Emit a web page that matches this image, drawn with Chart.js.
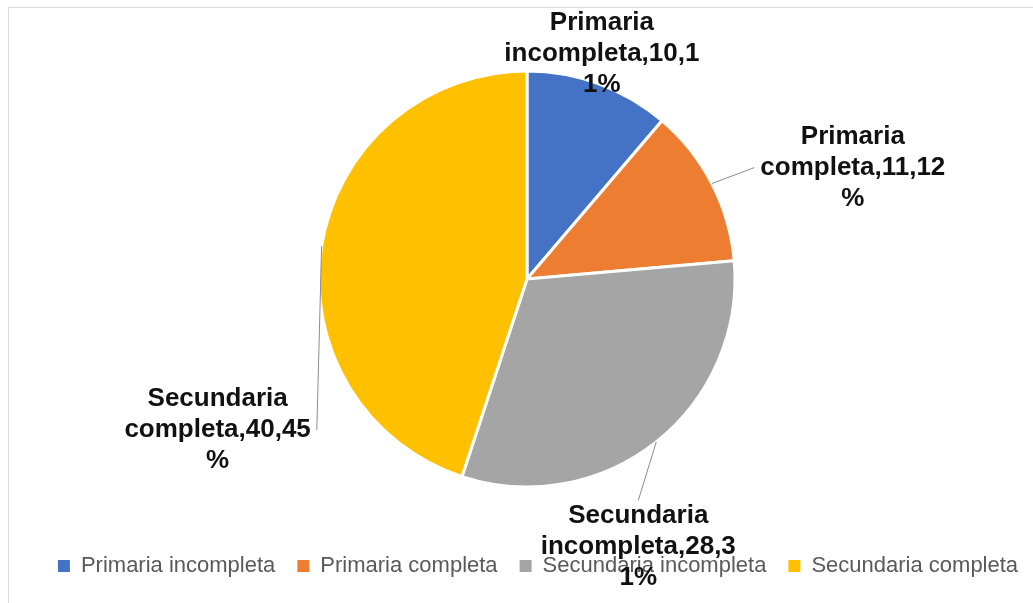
<!DOCTYPE html>
<html>
<head>
<meta charset="utf-8">
<script src="https://cdn.jsdelivr.net/npm/chart.js@4.4.1/dist/chart.umd.min.js"></script>
<style>
    html, body { margin: 0; padding: 0; background: #fff; overflow: hidden; }
    .frame {
        position: absolute; left: 8px; top: 7px;
        width: 1062px; height: 600px;
        border-top: 1px solid #d9d9d9; border-left: 1px solid #d9d9d9;
    }
    canvas { display: block; }
</style>
</head>
<body>
<div class="frame"><canvas id="pie-chart" width="1062" height="595"></canvas></div>
<script>
    "use strict";

    // Data
    var categories = ["Primaria incompleta", "Primaria completa", "Secundaria incompleta", "Secundaria completa"];
    var counts = [10, 11, 28, 40];
    var sliceColors = ["#4472C4", "#ED7D31", "#A5A5A5", "#FFC000"];

    var fontFamily = '"Liberation Sans", Arial, sans-serif';

    // wrap a label like Excel does: by words, and by letters when a word is too long
    function wrapText(ctx, text, maxWidth) {
        var lines = [];
        var line = '';
        text.split(' ').forEach(function (word) {
            var test = line ? line + ' ' + word : word;
            if (ctx.measureText(test).width <= maxWidth) {
                line = test;
                return;
            }
            if (line) {
                lines.push(line);
                line = '';
            }
            for (var c = 0; c < word.length; c++) {
                var t = line + word[c];
                if (line && ctx.measureText(t).width > maxWidth) {
                    lines.push(line);
                    line = word[c];
                } else {
                    line = t;
                }
            }
        });
        if (line) lines.push(line);
        return lines;
    }

    // Data labels with leader lines
    var pieLabels = {
        id: 'pieLabels',
        afterDatasetsDraw: function (chart, args, opts) {
            var ctx = chart.ctx;
            var meta = chart.getDatasetMeta(0);
            var values = chart.data.datasets[0].data;
            var total = values.reduce(function (a, b) { return a + b; }, 0);
            ctx.save();
            ctx.font = 'bold ' + opts.size + 'px ' + fontFamily;
            ctx.textAlign = 'center';
            ctx.textBaseline = 'middle';
            meta.data.forEach(function (arc, i) {
                var p = arc.getProps(['x', 'y', 'startAngle', 'endAngle', 'outerRadius'], true);
                var mid = (p.startAngle + p.endAngle) / 2;
                var ex = p.x + Math.cos(mid) * p.outerRadius;
                var ey = p.y + Math.sin(mid) * p.outerRadius;
                var pct = Math.round(values[i] / total * 100);
                var lines = wrapText(ctx, chart.data.labels[i] + ',' + values[i] + ',' + pct + '%', opts.maxWidth);
                var cx = ex + opts.offsets[i][0];
                var cy = ey + opts.offsets[i][1];
                var w = Math.max.apply(null, lines.map(function (l) { return ctx.measureText(l).width; }));
                var h = lines.length * opts.lineHeight;
                var left = cx - w / 2, right = cx + w / 2, top = cy - h / 2, bottom = cy + h / 2;

                var inside = ex >= left && ex <= right && ey >= top && ey <= bottom;
                if (!inside) {
                    var lx, ly;
                    if (ex >= left && ex <= right) {
                        lx = cx;
                        ly = ey < top ? top : bottom;
                    } else {
                        lx = ex < left ? left - opts.gap : right + opts.gap;
                        ly = cy;
                    }
                    ctx.strokeStyle = opts.lineColor;
                    ctx.lineWidth = 1;
                    ctx.beginPath();
                    ctx.moveTo(ex, ey);
                    ctx.lineTo(lx, ly);
                    ctx.stroke();
                }

                ctx.fillStyle = opts.color;
                lines.forEach(function (l, k) {
                    ctx.fillText(l, cx, top + opts.lineHeight * (k + 0.5));
                });
            });
            ctx.restore();
        }
    };

    // the legend sits a bit right of the pie in the original
    var legendShift = {
        id: 'legendShift',
        afterLayout: function (chart, args, opts) {
            chart.legend.left += opts.dx;
            chart.legend.right += opts.dx;
        }
    };

    var ctx1 = document.getElementById('pie-chart').getContext('2d');
    var myChart1 = new Chart(ctx1, {
        type: 'pie',
        data: {
            labels: categories,
            datasets: [{
                data: counts,
                backgroundColor: sliceColors,
                borderColor: '#ffffff',
                borderWidth: 3
            }]
        },
        options: {
            responsive: false,
            animation: false,
            radius: 208,
            layout: {
                padding: { left: 0, right: 26, top: 17, bottom: 16 }
            },
            plugins: {
                legend: {
                    position: 'bottom',
                    labels: {
                        boxWidth: 12,
                        boxHeight: 12,
                        padding: 22,
                        color: '#595959',
                        font: { size: 22, family: fontFamily },
                        generateLabels: function (chart) {
                            var items = Chart.overrides.pie.plugins.legend.labels.generateLabels(chart);
                            items.forEach(function (it) { it.lineWidth = 0; });
                            return items;
                        }
                    }
                },
                tooltip: { enabled: false },
                pieLabels: {
                    size: 26,
                    lineHeight: 31,
                    maxWidth: 200,
                    gap: 6,
                    color: '#111111',
                    lineColor: '#8c8c8c',
                    offsets: [[3, -30], [141, -16], [-18, 105], [-104, 184]]
                },
                legendShift: { dx: 11 }
            }
        },
        plugins: [pieLabels, legendShift]
    });
</script>
</body>
</html>
